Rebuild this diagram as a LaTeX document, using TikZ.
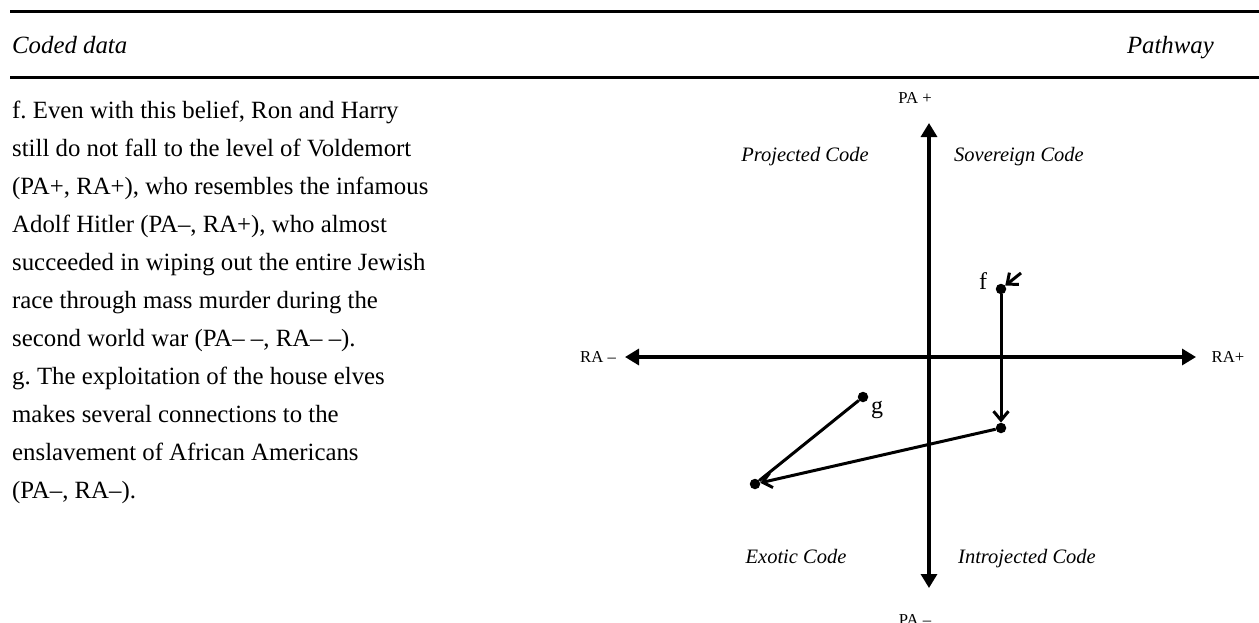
\documentclass[tikz,border=0pt]{standalone}
\usepackage{fontspec}
\setmainfont{Liberation Serif}
\usetikzlibrary{arrows.meta}
\frenchspacing
\begin{document}
\begin{tikzpicture}[x=1pt,y=-1pt,
  rule/.style={line width=3pt},
  body/.style={anchor=base west, inner sep=0pt, font=\fontsize{24.8}{28.5}\selectfont},
  head/.style={inner sep=0pt, font=\fontsize{24.8}{28.5}\selectfont\itshape},
  axis/.style={line width=3.3pt, {Triangle[length=14pt,width=16pt]}-{Triangle[length=14pt,width=16pt]}},
  axlabel/.style={inner sep=0pt, font=\fontsize{16.7}{18}\selectfont},
  quad/.style={inner sep=0pt, anchor=base, font=\fontsize{20.5}{22}\selectfont\itshape},
  move/.style={line width=3pt, -{Straight Barb[length=9pt,width=15pt]}},
  plain/.style={line width=3pt},
  dot/.style={circle, fill=black, inner sep=0pt, minimum size=10.5pt},
  ptlabel/.style={inner sep=0pt, font=\fontsize{24}{26}\selectfont}]
\useasboundingbox (0,0) rectangle (1259,622);

% table rules
\draw[rule] (10,11.5) -- (1259,11.5);
\draw[rule] (10,77) -- (1259,77);

% header
\node[head, anchor=base west] (hcoded) at (12,53) {Coded data};
\node[head, anchor=base east] (hpath) at (1214,53) {Pathway};

% coded data text
\node[body] (l1)  at (12,118) {f. Even with this belief, Ron and Harry};
\node[body] (l2)  at (12,156) {still do not fall to the level of Voldemort};
\node[body] (l3)  at (12,194) {(PA+, RA+), who resembles the infamous};
\node[body] (l4)  at (12,232) {Adolf Hitler (PA–, RA+), who almost};
\node[body] (l5)  at (12,270) {succeeded in wiping out the entire Jewish};
\node[body] (l6)  at (12,308) {race through mass murder during the};
\node[body] (l7)  at (12,346) {second world war (PA– –, RA– –).};
\node[body] (l8)  at (12,384) {g. The exploitation of the house elves};
\node[body] (l9)  at (12,422) {makes several connections to the};
\node[body] (l10) at (12,460) {enslavement of African Americans};
\node[body] (l11) at (12,498) {(PA–, RA–).};

% axes
\coordinate (top) at (929,123);
\coordinate (bot) at (929,588);
\coordinate (lft) at (625,357);
\coordinate (rgt) at (1196,357);
\draw[axis] (bot) -- (top);
\draw[axis] (lft) -- (rgt);

\node[axlabel] (paplus) at (915,98) {PA +};
\node[axlabel, anchor=base] (paminus) at (915,625) {PA –};
\node[axlabel] (raminus) at (598,357) {RA –};
\node[axlabel] (raplus) at (1228,357) {RA+};

% quadrant names
\node[quad] (qproj) at (805,161) {Projected Code};
\node[quad] (qsov)  at (1019,161) {Sovereign Code};
\node[quad] (qexo)  at (796,563) {Exotic Code};
\node[quad] (qintro) at (1027,563) {Introjected Code};

% pathway points
\node[dot] (pf) at (1001,289) {};
\node[dot] (pb) at (1001,428) {};
\node[dot] (pa) at (755,484) {};
\node[dot] (pg) at (863,397) {};
\coordinate (pe) at (1021,273);

\node[ptlabel] (lf) at (983,281) {f};
\node[ptlabel] (lg) at (877,410) {g};

\draw[move] (pe) -- (pf);
\draw[move] (pf) -- (pb);
\draw[move] (pb) -- (pa);
\draw[plain] (pa) -- (pg);
\end{tikzpicture}
\end{document}
